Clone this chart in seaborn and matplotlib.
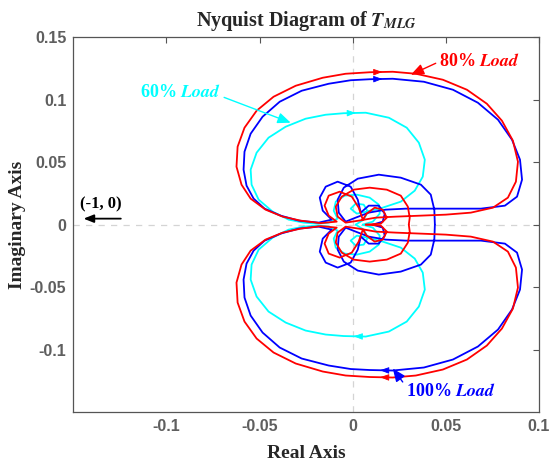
import matplotlib
matplotlib.use("Agg")
import matplotlib.pyplot as plt
import numpy as np
import pandas as pd
import seaborn as sns

# Positive-frequency branch of each Nyquist curve (real, imaginary parts).
# The negative-frequency branch is the complex conjugate.
red_re = [0.0070, 0.0151, 0.0183, 0.0161, 0.0118, 0.0075, 0.0054, 0.0032, -0.0005, -0.0070,
          -0.0129, -0.0151, -0.0129, -0.0086,
          -0.0172, -0.0280, -0.0376, -0.0468, -0.0548, -0.0597, -0.0624, -0.0618, -0.0581, -0.0516,
          -0.0425, -0.0306, -0.0161, -0.0038, 0.0091, 0.0215, 0.0339, 0.0484, 0.0613, 0.0720,
          0.0801, 0.0860, 0.0887, 0.0876, 0.0833, 0.0753, 0.0634, 0.0500, 0.0366, 0.0231,
          0.0124, 0.0032, -0.0038,
          -0.0081, -0.0091, -0.0059, 0.0005, 0.0091, 0.0183, 0.0258, 0.0296, 0.0306, 0.0301]
red_im = [0.0000, 0.0008, 0.0056, 0.0120, 0.0136, 0.0088, 0.0040, 0.0136, 0.0224, 0.0264,
          0.0232, 0.0152, 0.0072, 0.0024,
          0.0012, 0.0032, 0.0064, 0.0120, 0.0208, 0.0320, 0.0464, 0.0624, 0.0776, 0.0912,
          0.1024, 0.1112, 0.1176, 0.1208, 0.1220, 0.1224, 0.1208, 0.1160, 0.1080, 0.0968,
          0.0832, 0.0672, 0.0504, 0.0344, 0.0216, 0.0136, 0.0096, 0.0080, 0.0072, 0.0064,
          0.0056, 0.0032, 0.0016,
          0.0064, 0.0144, 0.0224, 0.0280, 0.0296, 0.0280, 0.0232, 0.0144, 0.0056, 0.0000]
red_arrow = 28

blue_re = [0.0108, 0.0161, 0.0172, 0.0140, 0.0086, 0.0043, 0.0027, -0.0011, -0.0081, -0.0145,
           -0.0177, -0.0161, -0.0113,
           -0.0183, -0.0290, -0.0387, -0.0473, -0.0532, -0.0570, -0.0586, -0.0581, -0.0548, -0.0484,
           -0.0392, -0.0274, -0.0129, -0.0011, 0.0091, 0.0215, 0.0382, 0.0538, 0.0672, 0.0780,
           0.0855, 0.0898, 0.0909, 0.0882, 0.0817, 0.0688, 0.0554, 0.0419, 0.0285, 0.0177,
           0.0086, 0.0016, -0.0038,
           -0.0075, -0.0081, -0.0048, 0.0027, 0.0140, 0.0258, 0.0366, 0.0419, 0.0438, 0.0441]
blue_im = [0.0000, 0.0024, 0.0088, 0.0152, 0.0152, 0.0096, 0.0200, 0.0304, 0.0344, 0.0304,
           0.0216, 0.0112, 0.0040,
           0.0016, 0.0032, 0.0072, 0.0128, 0.0208, 0.0312, 0.0440, 0.0584, 0.0728, 0.0864,
           0.0984, 0.1072, 0.1128, 0.1156, 0.1164, 0.1168, 0.1144, 0.1080, 0.0976, 0.0840,
           0.0680, 0.0520, 0.0360, 0.0224, 0.0152, 0.0128, 0.0128, 0.0128, 0.0128, 0.0120,
           0.0096, 0.0056, 0.0024,
           0.0096, 0.0200, 0.0296, 0.0368, 0.0400, 0.0376, 0.0320, 0.0240, 0.0120, 0.0000]
blue_arrow = 27

cyan_re = [0.0054, 0.0108, 0.0145, 0.0140, 0.0091, 0.0022, -0.0043, -0.0091, -0.0102, -0.0081,
           -0.0129, -0.0183, -0.0263, -0.0344, -0.0430, -0.0505, -0.0543, -0.0548, -0.0516, -0.0452,
           -0.0360, -0.0253, -0.0145, -0.0048, 0.0070, 0.0194, 0.0290, 0.0355, 0.0387, 0.0376,
           0.0333, 0.0258, 0.0161, 0.0075, 0.0022,
           -0.0011, 0.0016, 0.0059, 0.0081, 0.0059, 0.0016]
cyan_im = [0.0000, 0.0024, 0.0088, 0.0160, 0.0216, 0.0240, 0.0232, 0.0184, 0.0112, 0.0048,
           0.0016, 0.0008, 0.0016, 0.0040, 0.0104, 0.0200, 0.0320, 0.0440, 0.0576, 0.0696,
           0.0784, 0.0848, 0.0880, 0.0892, 0.0896, 0.0856, 0.0776, 0.0656, 0.0520, 0.0384,
           0.0272, 0.0184, 0.0136, 0.0104, 0.0088,
           0.0128, 0.0168, 0.0160, 0.0104, 0.0040, 0.0000]
cyan_arrow = 23

curve_names = ["80% Load", "100% Load", "60% Load"]
curve_colors = ["#ff0000", "#0000ff", "#00ffff"]

x_ticks = [-0.1, -0.05, 0, 0.05, 0.1]
x_tick_labels = ["-0.1", "-0.05", "0", "0.05", "0.1"]
y_ticks = [-0.1, -0.05, 0, 0.05, 0.1, 0.15]
y_tick_labels = ["-0.1", "-0.05", "0", "0.05", "0.1", "0.15"]

sns.set_theme(style="white")
plt.rcParams["font.family"] = ["Liberation Serif", "DejaVu Serif"]
plt.rcParams["mathtext.fontset"] = "stix"

fig = plt.figure(figsize=(5.5, 4.66), dpi=100)
ax = fig.add_axes([0.1333, 0.1159, 0.8467, 0.8041])

# dashed reference axes through the origin
ax.axhline(0, color="#d4d4d4", lw=0.9, ls=(0, (5, 5)), zorder=0)
ax.axvline(0, color="#d4d4d4", lw=0.9, ls=(0, (5, 5)), zorder=0)

curves = [(red_re, red_im, red_arrow), (blue_re, blue_im, blue_arrow), (cyan_re, cyan_im, cyan_arrow)]
draw_order = [2, 1, 0]
for k in draw_order:
    re, im, ai = curves[k]
    color = curve_colors[k]
    re = np.asarray(re)
    im = np.asarray(im)
    df = pd.DataFrame({
        "re": np.concatenate([re, re]),
        "im": np.concatenate([im, -im]),
        "branch": ["pos"] * len(re) + ["neg"] * len(re),
    })
    sns.lineplot(data=df, x="re", y="im", units="branch", estimator=None, sort=False,
                 color=color, lw=1.3, ax=ax, legend=False)
    # direction arrows: positive branch forward, negative branch reversed
    for sgn, (a, b) in ((1, (ai, ai + 1)), (-1, (ai + 1, ai))):
        xa, ya = re[a], sgn * im[a]
        xb, yb = re[b], sgn * im[b]
        xm, ym = (xa + xb) / 2, (ya + yb) / 2
        ax.annotate("", xy=(xm + (xb - xa) * 0.05, ym + (yb - ya) * 0.05),
                    xytext=(xm - (xb - xa) * 0.05, ym - (yb - ya) * 0.05),
                    arrowprops=dict(arrowstyle="-|>,head_length=0.6,head_width=0.22",
                                    color=color, lw=0.6, shrinkA=0, shrinkB=0, mutation_scale=9))

ax.set_xlim(-0.15, 0.1)
ax.set_ylim(-0.15, 0.15)
ax.set_xticks(x_ticks)
ax.set_yticks(y_ticks)
tick_font = dict(family=["Liberation Sans", "DejaVu Sans"], weight="bold", size=11.5, color="#5f5f5f")
ax.set_xticklabels(x_tick_labels, fontdict=tick_font)
ax.set_yticklabels(y_tick_labels, fontdict=tick_font)
ax.tick_params(direction="in", length=4, width=0.8, color="#555555", top=True, right=True, pad=5)
for s in ax.spines.values():
    s.set_color("#555555")
    s.set_linewidth(0.9)

ax.set_xlabel("Real Axis", fontsize=14, fontweight="bold", labelpad=8)
ax.set_ylabel("Imaginary Axis", fontsize=14, fontweight="bold", labelpad=3)
ax.set_title(r"Nyquist Diagram of $\mathbfit{T}_{\mathbfit{MLG}}$", fontsize=14.5, fontweight="bold", pad=8)

lab_kw = dict(fontsize=13, fontweight="bold", ha="center", va="center")
arrow_kw = dict(arrowstyle="-|>,head_length=0.6,head_width=0.25", lw=1.0, shrinkA=0, shrinkB=0)
ax.annotate(r"80% $\mathbfit{Load}$", xy=(0.0312, 0.1200), xytext=(0.0680, 0.1304),
            color=curve_colors[0], arrowprops=dict(color=curve_colors[0], relpos=(0, 0.5), **arrow_kw), **lab_kw)
ax.annotate(r"60% $\mathbfit{Load}$", xy=(-0.0333, 0.0816), xytext=(-0.0925, 0.1056),
            color=curve_colors[2], arrowprops=dict(color=curve_colors[2], relpos=(1, 0.3), **arrow_kw), **lab_kw)
ax.annotate(r"100% $\mathbfit{Load}$", xy=(0.0215, -0.1152), xytext=(0.0527, -0.1336),
            color=curve_colors[1], arrowprops=dict(color=curve_colors[1], relpos=(0, 0.8), **arrow_kw), **lab_kw)

ax.text(-0.1355, 0.0165, "(-1, 0)", fontsize=12, fontweight="bold", ha="center", va="center", color="black")
ax.annotate("", xy=(-0.1445, 0.0048), xytext=(-0.1245, 0.0048),
            arrowprops=dict(arrowstyle="-|>,head_length=0.5,head_width=0.2", color="black", lw=1.3,
                            shrinkA=0, shrinkB=0))

fig.savefig("out.png", dpi=100)
